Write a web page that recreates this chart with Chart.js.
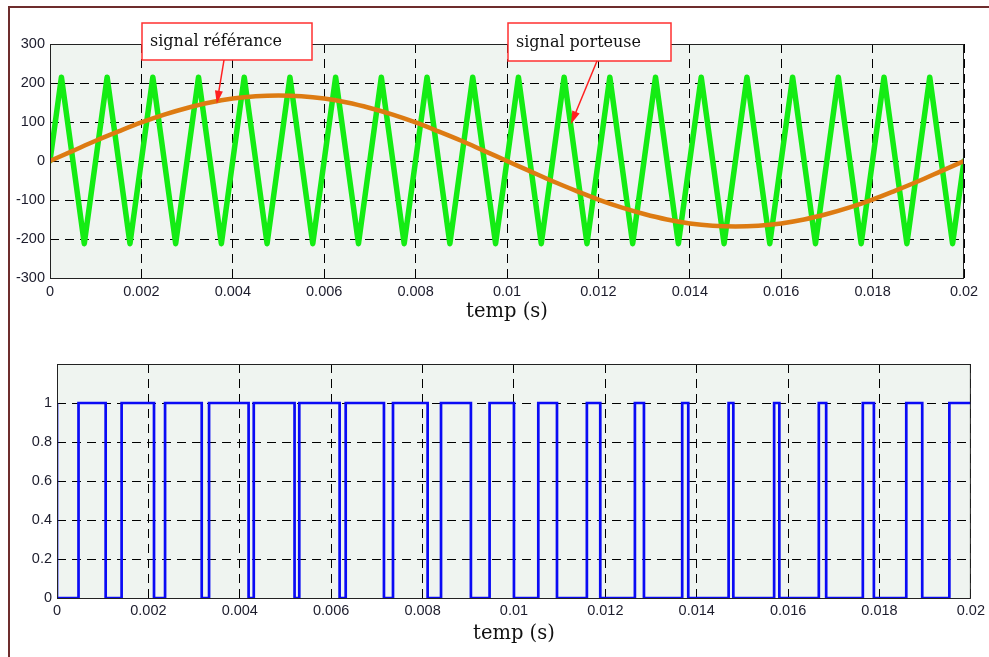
<!DOCTYPE html>
<html>
<head>
<meta charset="utf-8">
<script src="https://cdn.jsdelivr.net/npm/chart.js@4.4.1/dist/chart.umd.min.js"></script>
<style>
  html, body { margin: 0; padding: 0; background: #fff; }
  #page { position: relative; width: 989px; height: 657px; overflow: hidden; }
  #frame { position: absolute; left: 8px; top: 6px; right: -5px; bottom: -5px;
           border-left: 2.5px solid #6e2d2d; border-top: 2px solid #6e2d2d; }
  canvas { position: absolute; left: 0; }
  #topChart { top: 0; }
  #pwmChart { top: 330px; }
</style>
</head>
<body>
<div id="page">
  <div id="frame"></div>
  <canvas id="topChart" width="989" height="330"></canvas>
  <canvas id="pwmChart" width="989" height="327"></canvas>
</div>
<script>
// porteuse triangulaire : sommets (s, valeur)
const carrierT = [0, 0.00025, 0.00075, 0.00125, 0.00175, 0.00225, 0.00275, 0.00325, 0.00375, 0.00425, 0.00475,
  0.00525, 0.00575, 0.00625, 0.00675, 0.00725, 0.00775, 0.00825, 0.00875, 0.00925, 0.00975,
  0.01025, 0.01075, 0.01125, 0.01175, 0.01225, 0.01275, 0.01325, 0.01375, 0.01425, 0.01475,
  0.01525, 0.01575, 0.01625, 0.01675, 0.01725, 0.01775, 0.01825, 0.01875, 0.01925, 0.01975, 0.02];
const carrierV = [0, 215, -212, 215, -212, 215, -212, 215, -212, 215, -212,
  215, -212, 215, -212, 215, -212, 215, -212, 215, -212,
  215, -212, 215, -212, 215, -212, 215, -212, 215, -212,
  215, -212, 215, -212, 215, -212, 215, -212, 215, -212, 0];

// signal de référence, relevé tous les 0.5 ms
const refT = [0, 0.0005, 0.001, 0.0015, 0.002, 0.0025, 0.003, 0.0035, 0.004, 0.0045, 0.005,
  0.0055, 0.006, 0.0065, 0.007, 0.0075, 0.008, 0.0085, 0.009, 0.0095, 0.01,
  0.0105, 0.011, 0.0115, 0.012, 0.0125, 0.013, 0.0135, 0.014, 0.0145, 0.015,
  0.0155, 0.016, 0.0165, 0.017, 0.0175, 0.018, 0.0185, 0.019, 0.0195, 0.02];
const refV = [0, 26, 52, 76, 99, 119, 136, 150, 160, 166, 168,
  166, 160, 150, 136, 119, 99, 76, 52, 26, 0,
  -26, -52, -76, -99, -119, -136, -150, -160, -166, -168,
  -166, -160, -150, -136, -119, -99, -76, -52, -26, 0];

// commande MLI : instants de passage à 1 et à 0
const pwmOn = [0.000471, 0.001414, 0.002365, 0.003328, 0.004306, 0.005302, 0.006318, 0.007353, 0.008404, 0.009467,
  0.010533, 0.011596, 0.012647, 0.013682, 0.014698, 0.015694, 0.016672, 0.017635, 0.018586, 0.019529];
const pwmOff = [0.001065, 0.002123, 0.003167, 0.004193, 0.005199, 0.006185, 0.007155, 0.008111, 0.009058, 0.0100,
  0.010942, 0.011889, 0.012845, 0.013815, 0.014801, 0.015808, 0.016833, 0.017877, 0.018935];

const xTicks = { min: 0, max: 0.02, step: 0.002 };
const yTicksTop = { min: -300, max: 300, step: 100 };
const yTicksPwm = { min: 0, max: 1.2, step: 0.2 };

const labels = [
  { text: 'signal référance', box: [142, 23, 170, 37], from: [224, 60], tip: [0.00365, 147] },
  { text: 'signal porteuse', box: [508, 23, 163, 38], from: [597, 61], tip: [0.0114, 95] }
];

const TICK_FONT = { family: 'Liberation Sans, Arial, sans-serif', size: 14.5 };
const TITLE_FONT = { family: 'DejaVu Serif, serif', size: 19.5 };
const TICK_COLOR = '#1c1c2c';

function zip(xs, ys) { return xs.map((x, i) => ({ x, y: ys[i] })); }

function pwmPoints() {
  const pts = [{ x: 0, y: 1 }, { x: 0, y: 0 }];
  pwmOn.forEach((t, i) => {
    pts.push({ x: t, y: 1 });
    if (i < pwmOff.length) pts.push({ x: pwmOff[i], y: 0 });
  });
  pts.push({ x: xTicks.max, y: 1 });
  return pts;
}

const plotBox = {
  id: 'plotBox',
  beforeDraw(chart) {
    const { ctx, chartArea: a } = chart;
    ctx.save();
    ctx.fillStyle = '#eff4f0';
    ctx.fillRect(a.left, a.top, a.right - a.left, a.bottom - a.top);
    ctx.restore();
  },
  afterDatasetsDraw(chart) {
    const { ctx, chartArea: a } = chart;
    ctx.save();
    ctx.strokeStyle = '#222';
    ctx.lineWidth = 1;
    ctx.strokeRect(a.left + 0.5, a.top + 0.5, a.right - a.left - 1, a.bottom - a.top);
    ctx.restore();
  }
};

const callouts = {
  id: 'callouts',
  afterDraw(chart) {
    const { ctx, scales } = chart;
    ctx.save();
    labels.forEach(l => {
      const [bx, by, bw, bh] = l.box;
      ctx.fillStyle = '#fff';
      ctx.fillRect(bx, by, bw, bh);
      ctx.strokeStyle = '#ff3030';
      ctx.lineWidth = 1.5;
      ctx.strokeRect(bx, by, bw, bh);
      ctx.fillStyle = '#111';
      ctx.font = '16px "DejaVu Serif", serif';
      ctx.textBaseline = 'middle';
      ctx.fillText(l.text, bx + 8, by + bh / 2 + 0.5);

      const tx = scales.x.getPixelForValue(l.tip[0]);
      const ty = scales.y.getPixelForValue(l.tip[1]);
      const [fx, fy] = l.from;
      const ang = Math.atan2(ty - fy, tx - fx);
      ctx.strokeStyle = '#ff2020';
      ctx.lineWidth = 1.5;
      ctx.beginPath();
      ctx.moveTo(fx, fy);
      ctx.lineTo(tx - 10 * Math.cos(ang), ty - 10 * Math.sin(ang));
      ctx.stroke();
      ctx.fillStyle = '#ff2020';
      ctx.beginPath();
      ctx.moveTo(tx, ty);
      ctx.lineTo(tx - 13 * Math.cos(ang) + 4 * Math.sin(ang), ty - 13 * Math.sin(ang) - 4 * Math.cos(ang));
      ctx.lineTo(tx - 13 * Math.cos(ang) - 4 * Math.sin(ang), ty - 13 * Math.sin(ang) + 4 * Math.cos(ang));
      ctx.closePath();
      ctx.fill();
    });
    ctx.restore();
  }
};

function axes(yRange, yWidth, xHeight, tickPadX, titlePad, yFmt) {
  const grid = { color: '#000', lineWidth: 1, drawTicks: false };
  const border = { display: false, dash: [9, 6] };
  return {
    x: {
      type: 'linear', min: xTicks.min, max: xTicks.max,
      grid, border,
      ticks: { stepSize: xTicks.step, font: TICK_FONT, color: TICK_COLOR, padding: tickPadX,
               maxRotation: 0, autoSkip: false, callback: v => String(+v.toFixed(3)) },
      title: { display: true, text: 'temp (s)', font: TITLE_FONT, color: '#111', padding: { top: 0, bottom: titlePad } },
      afterFit: s => { s.height = xHeight; }
    },
    y: {
      min: yRange.min, max: yRange.max,
      grid, border,
      ticks: { stepSize: yRange.step, font: TICK_FONT, color: TICK_COLOR, padding: 5, autoSkip: false, callback: yFmt },
      afterFit: s => { s.width = yWidth; }
    }
  };
}

new Chart(document.getElementById('topChart'), {
  type: 'scatter',
  data: {
    datasets: [
      { label: 'signal référance', data: zip(refT, refV), showLine: true, borderColor: '#dd7b12',
        borderWidth: 4.5, pointRadius: 0, cubicInterpolationMode: 'monotone', borderCapStyle: 'round' },
      { label: 'signal porteuse', data: zip(carrierT, carrierV), showLine: true, borderColor: '#14ec14',
        borderWidth: 5.5, pointRadius: 0, borderJoinStyle: 'round', borderCapStyle: 'round' }
    ]
  },
  options: {
    responsive: false, animation: false, devicePixelRatio: 1,
    layout: { padding: { left: 0, right: 25, top: 44, bottom: 0 } },
    plugins: { legend: { display: false }, tooltip: { enabled: false } },
    scales: axes(yTicksTop, 50, 52, 5, 6, v => String(Math.round(v)))
  },
  plugins: [plotBox, callouts]
});

new Chart(document.getElementById('pwmChart'), {
  type: 'scatter',
  data: {
    datasets: [
      { label: 'MLI', data: pwmPoints(), showLine: true, stepped: 'before', borderColor: '#0a0af5',
        borderWidth: 2.7, pointRadius: 0 }
    ]
  },
  options: {
    responsive: false, animation: false, devicePixelRatio: 1,
    layout: { padding: { left: 0, right: 17, top: 34, bottom: 0 } },
    plugins: { legend: { display: false }, tooltip: { enabled: false } },
    scales: axes(yTicksPwm, 57, 59, 4, 11, v => v > 1.1 ? '' : String(+v.toFixed(1)))
  },
  plugins: [plotBox]
});
</script>
</body>
</html>
